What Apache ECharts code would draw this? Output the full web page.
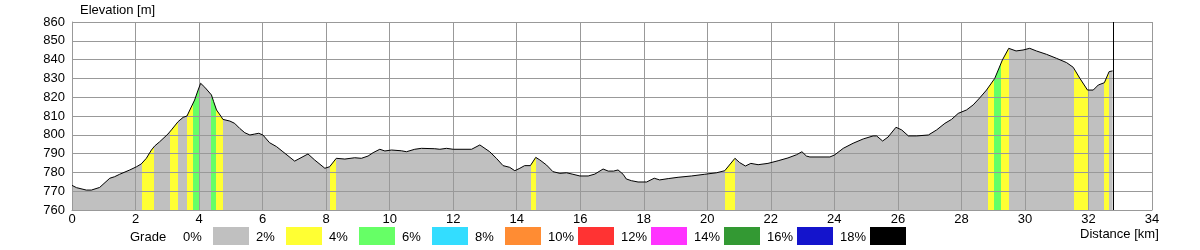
<!DOCTYPE html>
<html>
<head>
<meta charset="utf-8">
<script src="https://cdn.jsdelivr.net/npm/echarts@6/dist/echarts.min.js"></script>
<style>
html,body{margin:0;padding:0;background:#fff;}
#chart{width:1200px;height:250px;}
</style>
</head>
<body>
<div id="chart"></div>
<script>
// Distance along route [km]
const distance = [0.00,0.14,0.45,0.61,0.87,1.19,1.34,1.50,1.82,2.03,2.18,2.34,2.50,2.60,2.76,3.02,3.13,3.34,3.50,3.62,3.71,3.86,3.97,4.05,4.18,4.39,4.46,4.55,4.70,4.75,4.97,5.12,5.28,5.44,5.60,5.75,5.88,6.01,6.22,6.44,6.64,7.01,7.43,7.64,7.96,8.11,8.32,8.59,8.90,9.11,9.32,9.48,9.69,9.85,10.06,10.37,10.53,10.79,11.00,11.42,11.58,11.79,12.00,12.58,12.84,13.15,13.36,13.57,13.78,13.94,14.10,14.25,14.43,14.60,14.73,14.94,15.14,15.36,15.57,15.77,15.99,16.25,16.46,16.72,16.88,17.05,17.19,17.35,17.45,17.61,17.82,18.09,18.33,18.50,18.77,19.08,19.50,19.92,20.29,20.55,20.87,21.02,21.20,21.37,21.60,21.91,22.23,22.54,22.81,22.98,23.12,23.23,23.86,24.01,24.28,24.59,24.91,25.22,25.33,25.52,25.69,25.94,26.12,26.33,26.59,26.96,27.22,27.48,27.69,27.90,28.16,28.37,28.58,28.79,29.05,29.29,29.49,29.72,29.94,30.15,30.36,30.68,30.99,31.31,31.52,31.73,31.97,32.15,32.31,32.50,32.65,32.76];
// Elevation [m]
const elevation = [773.1,771.9,770.6,770.6,772.0,776.9,777.7,779.0,781.3,783.0,784.5,787.5,791.9,794.0,796.3,800.4,802.6,807.0,809.3,810.0,813.2,818.5,823.8,827.4,825.3,821.2,817.6,813.2,809.6,808.2,807.3,806.1,803.4,801.1,799.9,800.4,800.8,799.9,795.8,793.7,791.0,786.0,789.8,786.6,782.2,783.0,787.5,787.1,787.8,787.5,788.7,790.5,792.3,791.4,791.9,791.5,791.0,792.3,792.8,792.6,792.3,792.8,792.3,792.3,794.6,791.0,787.5,783.6,782.7,780.9,782.2,783.6,783.6,788.0,786.6,783.9,780.4,779.5,779.8,779.0,778.1,778.1,779.1,781.8,780.7,780.7,781.3,779.0,776.5,775.6,774.9,774.9,776.9,776.0,776.7,777.4,778.1,779.0,779.8,780.9,787.5,785.2,783.4,784.8,784.1,784.8,786.2,787.7,789.4,791.0,788.7,788.2,788.2,789.3,792.8,795.5,797.8,799.4,799.4,796.7,798.8,804.0,802.6,799.4,799.4,799.9,802.6,806.1,808.2,811.4,813.2,815.9,819.7,823.8,830.0,839.8,846.0,844.6,845.1,846.0,844.6,842.8,840.7,838.4,835.9,830.0,823.8,823.8,826.5,827.7,833.6,834.0];
// Grade classes (legend)
const gradeLabels = ['0%','2%','4%','6%','8%','10%','12%','14%','16%','18%'];
const gradeColors = ['#c0c0c0','#ffff33','#66ff66','#33ddff','#ff8c33','#ff3333','#ff33ff','#339933','#1414cc','#000000'];
// Steeper sections: start km, end km, grade class index
const gradeSegStart = [2.19,3.08,3.63,3.81,4.37,4.53,8.11,14.44,20.55,28.83,29.02,29.26,31.54,32.48];
const gradeSegEnd   = [2.57,3.33,3.81,4.00,4.53,4.74,8.30,14.60,20.87,29.02,29.26,29.49,31.99,32.65];
const gradeSegClass = [1,1,1,2,2,1,1,1,1,1,2,1,1,1];
// X and Y ticks
const xTicks = [0,2,4,6,8,10,12,14,16,18,20,22,24,26,28,30,32,34];
const yTicks = [760,770,780,790,800,810,820,830,840,850,860];
const routeEnd = 32.78;

const FONT = '"Liberation Sans", Arial, sans-serif';
const GRID_COLOR = '#999999';
const chart = echarts.init(document.getElementById('chart'), null, {renderer:'canvas'});

const points = distance.map((d,i)=>[d, elevation[i]]);
const pieces = gradeSegStart.map((s,i)=>({gte:s, lt:gradeSegEnd[i], color:gradeColors[gradeSegClass[i]]}));
const gridMarks = xTicks.map(v=>({xAxis:v})).concat(yTicks.map(v=>({yAxis:v})));

const graphics = [
  {type:'text', left:80, top:4, style:{text:'Elevation [m]', font:'13px '+FONT, fill:'#000'}},
  {type:'text', left:1080, top:228, style:{text:'Distance [km]', font:'13px '+FONT, fill:'#000'}},
  {type:'text', left:130, top:231, style:{text:'Grade', font:'13px '+FONT, fill:'#000'}}
];
gradeLabels.forEach((lab,i)=>{
  graphics.push({type:'text', left:183+73*i, top:231, style:{text:lab, font:'13px '+FONT, fill:'#000'}});
  graphics.push({type:'rect', shape:{x:213+73*i, y:227, width:36, height:18}, style:{fill:gradeColors[i]}});
});

chart.setOption({
  animation:false,
  backgroundColor:'#fff',
  grid:{left:72, right:48, top:22, bottom:40, containLabel:false},
  xAxis:{
    type:'value', min:xTicks[0], max:xTicks[xTicks.length-1], interval:xTicks[1]-xTicks[0], z:5,
    axisLine:{show:true, lineStyle:{color:GRID_COLOR, width:1}},
    axisTick:{show:false},
    axisLabel:{color:'#000', fontFamily:FONT, fontSize:13, margin:3},
    splitLine:{show:true, lineStyle:{color:GRID_COLOR, width:1}}
  },
  yAxis:{
    type:'value', min:yTicks[0], max:yTicks[yTicks.length-1], interval:yTicks[1]-yTicks[0], z:5,
    axisLine:{show:true, lineStyle:{color:GRID_COLOR, width:1}},
    axisTick:{show:false},
    axisLabel:{color:'#000', fontFamily:FONT, fontSize:13, margin:7},
    splitLine:{show:true, lineStyle:{color:GRID_COLOR, width:1}}
  },
  visualMap:{
    type:'piecewise', show:false, dimension:0, seriesIndex:0,
    pieces:pieces, outOfRange:{color:gradeColors[0]}
  },
  series:[
    {type:'line', data:points, showSymbol:false, lineStyle:{width:0}, areaStyle:{opacity:1, origin:'start'}, z:2,
     markLine:{silent:true, symbol:'none', label:{show:false}, emphasis:{disabled:true}, z:6,
       lineStyle:{color:GRID_COLOR, type:'solid', width:1}, data:gridMarks}},
    {type:'line', data:points, showSymbol:false, lineStyle:{color:'#000', width:1}, itemStyle:{color:'#000'}, z:10,
     markLine:{silent:true, symbol:'none', label:{show:false}, z:11, lineStyle:{color:'#000', type:'solid', width:1},
       data:[{xAxis:routeEnd}]}}
  ],
  graphic:graphics
});
</script>
</body>
</html>
